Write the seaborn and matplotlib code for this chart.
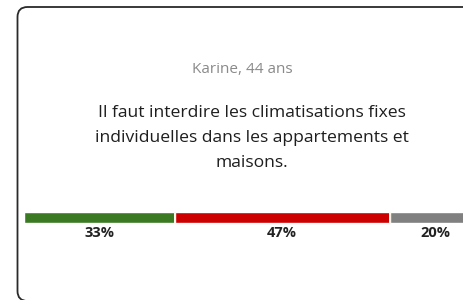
import numpy as np
import pandas as pd
import matplotlib
matplotlib.use("Agg")
import matplotlib.pyplot as plt
from matplotlib.patches import FancyBboxPatch
from matplotlib.transforms import IdentityTransform
import seaborn as sns

# data
author = "Karine, 44 ans"
statement = ["Il faut interdire les climatisations fixes",
             "individuelles dans les appartements et",
             "maisons."]
answers = ["Oui", "Non", "Sans avis"]
shares = [33, 47, 20]
bar_colors = ["#3b7a22", "#cc0000", "#808080"]

W, H = 464, 300
sns.set_theme(style="white")
plt.rcParams["font.family"] = ["Open Sans", "DejaVu Sans"]

fig = plt.figure(figsize=(W / 100, H / 100), dpi=100)
fig.patch.set_facecolor("white")


def fy(px):
    return 1 - px / H


# card outline in pixels (runs off the right / bottom edge like the screenshot)
card = FancyBboxPatch((17.5, -1), 600, 294,
                      boxstyle="round,pad=0,rounding_size=10",
                      transform=IdentityTransform(), facecolor="none",
                      edgecolor="#2a2a2a", linewidth=1.3, zorder=-1)
fig.patches.append(card)

fig.text(242 / W, fy(73), author, ha="center", va="baseline",
         fontsize=11, color="#8a8a8a")
for line, base in zip(statement, [117, 142, 167]):
    fig.text(251.5 / W, fy(base), line, ha="center", va="baseline",
             fontsize=12.6, fontweight=500, color="#1e1e1e")

# stacked bar: draw cumulative totals, longest first
cum = np.cumsum(shares)
starts = cum - np.array(shares)
df = pd.DataFrame({"row": ["q"] * len(answers), "answer": answers, "cum": cum})

ax = fig.add_axes([23.6 / W, fy(222.5), 457.4 / W, 11 / H])
sns.barplot(data=df.iloc[::-1], x="cum", y="row", hue="answer",
            hue_order=answers[::-1], palette=bar_colors[::-1],
            dodge=False, width=1.0, legend=False, ax=ax, saturation=1)
ax.set_xlim(0, 100)
ax.set_ylim(0.5, -0.5)
for b in cum[:-1]:
    ax.axvline(b, color="#fdfbf0", linewidth=1.4)
ax.axis("off")

for s, v in zip(starts, shares):
    ax.annotate(f"{v}%", xy=(s + v / 2, 0), xycoords=("data", "axes fraction"),
                xytext=(0, -7.8), textcoords="offset points",
                ha="center", va="center", fontsize=10.5, fontweight="bold",
                color="#222222", annotation_clip=False)

fig.savefig("out.png", dpi=100)
